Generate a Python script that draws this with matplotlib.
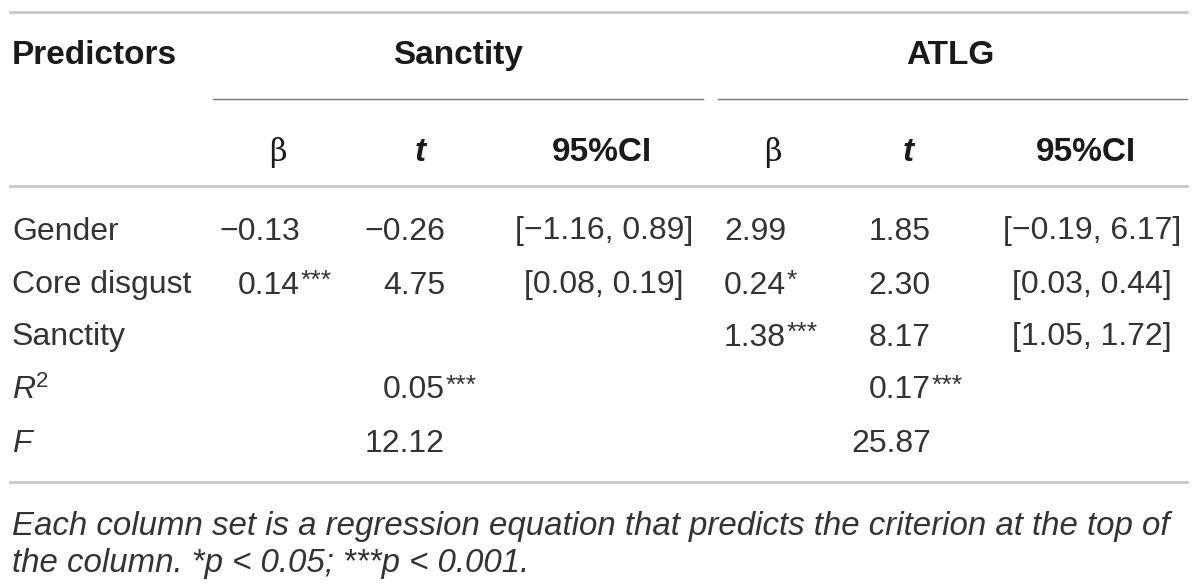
import matplotlib.pyplot as plt
from matplotlib.lines import Line2D

# Table content
row_labels = ["Gender", "Core disgust", "Sanctity"]
groups = ["Sanctity", "ATLG"]
sub_headers = ["β", "t", "95%CI"]

sanct_beta = ["\u22120.13", "0.14", ""]
sanct_beta_stars = ["", "***", ""]
sanct_t = ["\u22120.26", "4.75", ""]
sanct_ci = ["[\u22121.16, 0.89]", "[0.08, 0.19]", ""]

atlg_beta = ["2.99", "0.24", "1.38"]
atlg_beta_stars = ["", "*", "***"]
atlg_t = ["1.85", "2.30", "8.17"]
atlg_ci = ["[\u22120.19, 6.17]", "[0.03, 0.44]", "[1.05, 1.72]"]

r2_values = ["0.05", "0.17"]
r2_stars = ["***", "***"]
f_values = ["12.12", "25.87"]

note_lines = [
    "Each column set is a regression equation that predicts the criterion at the top of",
    "the column. *p < 0.05; ***p < 0.001.",
]

plt.rcParams['font.family'] = ['Liberation Sans', 'DejaVu Sans']
TXT = '#333333'
HEAD = '#1a1a1a'
FS = 23
HFS = 24

fig = plt.figure(figsize=(12, 5.87), dpi=100)
ax = fig.add_axes([0, 0, 1, 1])
ax.set_xlim(0, 1200)
ax.set_ylim(587, 0)
ax.axis('off')


def put(x, y, s, ha='left', **kw):
    kw.setdefault('fontsize', FS)
    kw.setdefault('color', TXT)
    return ax.text(x, y, s, ha=ha, va='center_baseline', **kw)


def stars(artist, s):
    if s:
        ax.annotate(s, xy=(1, 1), xycoords=artist, xytext=(0.5, 1),
                    textcoords='offset points', ha='left', va='top',
                    fontsize=19, color=TXT)


# rules
for y in [12, 186, 482]:
    ax.add_line(Line2D([10, 1187], [y, y], color='#c9c9c9', lw=2))
ax.add_line(Line2D([213, 703], [99, 99], color='#7a7a7a', lw=1))
ax.add_line(Line2D([718, 1187], [99, 99], color='#7a7a7a', lw=1))

# header
put(12, 52, "Predictors", fontweight='bold', color=HEAD, fontsize=HFS)
put(458, 52, groups[0], ha='center', fontweight='bold', color=HEAD, fontsize=HFS)
put(950, 52, groups[1], ha='center', fontweight='bold', color=HEAD, fontsize=HFS)

head_x = [[278, 420, 602], [773, 908, 1086]]
for g in range(2):
    put(head_x[g][0], 149, sub_headers[0], ha='center',
        family=['DejaVu Serif'], fontsize=FS - 1, color=HEAD)
    put(head_x[g][1], 149, sub_headers[1], ha='center', fontweight='bold',
        style='italic', color=HEAD, fontsize=HFS)
    put(head_x[g][2], 149, sub_headers[2], ha='center', fontweight='bold',
        color=HEAD, fontsize=HFS)

# body rows
row_y = [228, 282, 334]
for i, lab in enumerate(row_labels):
    y = row_y[i]
    put(12, y, lab)
    if sanct_beta[i]:
        t = put(300, y, sanct_beta[i], ha='right')
        stars(t, sanct_beta_stars[i])
    if sanct_t[i]:
        put(445, y, sanct_t[i], ha='right')
    if sanct_ci[i]:
        put(604, y, sanct_ci[i], ha='center')
    t = put(724, y, atlg_beta[i], ha='left')
    stars(t, atlg_beta_stars[i])
    put(931, y, atlg_t[i], ha='right')
    put(1092, y, atlg_ci[i], ha='center')

# R2 and F
r = put(12, 387, "R", style='italic')
ax.annotate("2", xy=(1, 1), xycoords=r, xytext=(0.5, 3),
            textcoords='offset points', ha='left', va='top',
            fontsize=16, color=TXT)
for g, x in enumerate([445, 931]):
    t = put(x, 387, r2_values[g], ha='right')
    stars(t, r2_stars[g])
    put(x, 441, f_values[g], ha='right')
put(12, 441, "F", style='italic')

# footnote
for k, line in enumerate(note_lines):
    put(12, 523 + 37 * k, line, style='italic', fontsize=23.8)

fig.savefig("out.png", dpi=100, facecolor='white')
